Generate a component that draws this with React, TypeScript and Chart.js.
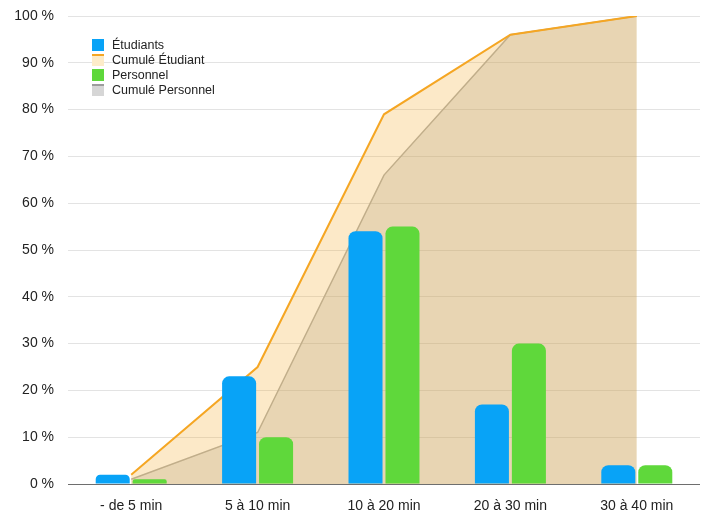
import { useEffect, useRef } from "react";
import { Chart, registerables } from "chart.js";

Chart.register(...registerables);

// Temps de trajet : répartition et cumul (en %)
const categories = ["- de 5 min", "5 à 10 min", "10 à 20 min", "20 à 30 min", "30 à 40 min"];
const etudiants = [2, 23, 54, 17, 4];
const personnel = [1, 10, 55, 30, 4];
const cumulEtudiant = [2, 25, 79, 96, 100];
const cumulPersonnel = [1, 11, 66, 96, 100];

const legendItems = [
  { label: "Étudiants", kind: "bar", fill: "#08a3f7", line: "" },
  { label: "Cumulé Étudiant", kind: "area", fill: "#fdecc9", line: "#f5a623" },
  { label: "Personnel", kind: "bar", fill: "#5fd83b", line: "" },
  { label: "Cumulé Personnel", kind: "area", fill: "#d6d6d6", line: "#9c9c9c" },
];

const FONT = "'Liberation Sans', Arial, Helvetica, sans-serif";

const legendPlugin = {
  id: "insetLegend",
  afterDraw(chart: any) {
    const ctx = chart.ctx as CanvasRenderingContext2D;
    ctx.save();
    ctx.font = `12.5px ${FONT}`;
    ctx.textBaseline = "middle";
    ctx.textAlign = "left";
    legendItems.forEach((item, i) => {
      const cy = 45 + i * 15;
      const x = 92;
      const top = cy - 6;
      ctx.fillStyle = item.fill;
      ctx.fillRect(x, top, 12, 12);
      if (item.kind === "area") {
        ctx.fillStyle = item.line;
        ctx.fillRect(x, top, 12, 2);
      }
      ctx.fillStyle = "#222";
      ctx.fillText(item.label, 112, cy + 1);
    });
    ctx.restore();
  },
};

export default function App() {
  const canvasRef = useRef<HTMLCanvasElement | null>(null);

  useEffect(() => {
    if (!canvasRef.current) return;
    const chart = new Chart(canvasRef.current, {
      type: "bar",
      data: {
        labels: categories,
        datasets: [
          {
            type: "bar",
            label: "Étudiants",
            data: etudiants,
            backgroundColor: "#08a3f7",
            borderRadius: 7,
            borderSkipped: "start",
            categoryPercentage: 0.585,
            barPercentage: 0.92,
            order: 0,
          },
          {
            type: "bar",
            label: "Personnel",
            data: personnel,
            backgroundColor: "#5fd83b",
            borderRadius: 7,
            borderSkipped: "start",
            categoryPercentage: 0.585,
            barPercentage: 0.92,
            order: 0,
          },
          {
            type: "line",
            label: "Cumulé Étudiant",
            data: cumulEtudiant,
            borderColor: "#f5a623",
            borderWidth: 2,
            backgroundColor: "rgba(245,166,35,0.25)",
            fill: "origin",
            pointRadius: 0,
            tension: 0,
            order: 2,
          },
          {
            type: "line",
            label: "Cumulé Personnel",
            data: cumulPersonnel,
            borderColor: "#b0b0ad",
            borderWidth: 1.5,
            backgroundColor: "rgba(150,152,145,0.25)",
            fill: "origin",
            pointRadius: 0,
            tension: 0,
            order: 3,
          },
        ],
      } as any,
      options: {
        responsive: false,
        animation: false,
        layout: { padding: { top: 16, right: 10, left: 0, bottom: 0 } },
        plugins: {
          legend: { display: false },
          tooltip: { enabled: false },
          filler: { drawTime: "beforeDatasetDraw" },
        },
        scales: {
          x: {
            grid: { display: false },
            border: { display: false },
            ticks: {
              color: "#222",
              font: { family: FONT, size: 14 },
              padding: 6,
              maxRotation: 0,
            },
            afterFit: (scale: any) => {
              scale.height = 28;
              scale.paddingLeft = 0;
              scale.paddingRight = 0;
            },
          },
          y: {
            min: 0,
            max: 100,
            border: { display: false },
            grid: {
              drawTicks: false,
              color: (c: any) => (c.tick && c.tick.value === 0 ? "#6e6e6e" : "#e3e3e3"),
              lineWidth: 1,
            },
            ticks: {
              stepSize: 10,
              color: "#222",
              font: { family: FONT, size: 14 },
              padding: 14,
              callback: (v: any) => `${v} %`,
            },
            afterFit: (scale: any) => {
              scale.width = 68;
              scale.paddingTop = 0;
              scale.paddingBottom = 0;
            },
          },
        },
      } as any,
      plugins: [legendPlugin],
    });
    return () => chart.destroy();
  }, []);

  return (
    <div style={{ position: "absolute", left: 0, top: 0, width: 710, height: 512, background: "#fff" }}>
      <canvas ref={canvasRef} width={710} height={512} style={{ display: "block" }} />
    </div>
  );
}
